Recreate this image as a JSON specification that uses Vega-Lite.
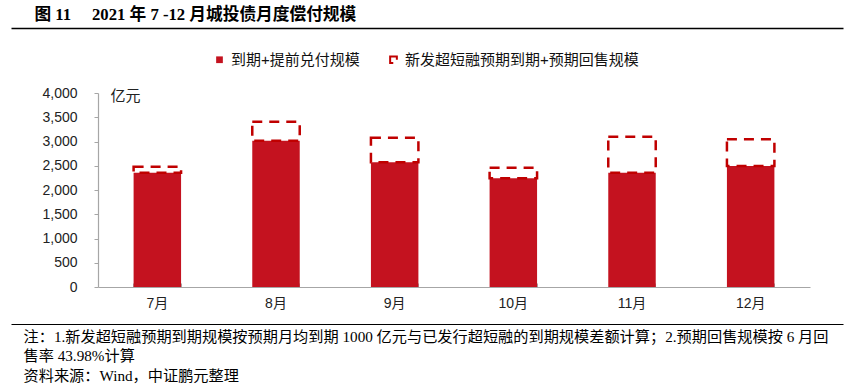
{
  "$schema": "https://vega.github.io/schema/vega-lite/v6.json",
  "autosize": "none",
  "width": 712,
  "height": 194,
  "padding": {"left": 98, "top": 93, "right": 39, "bottom": 105},
  "background": "white",
  "data": {
    "values": [
      {"月份": "7月", "系列": "到期+提前兑付规模", "规模": 2357},
      {"月份": "7月", "系列": "新发超短融预期到期+预期回售规模", "规模": 123},
      {"月份": "8月", "系列": "到期+提前兑付规模", "规模": 3016},
      {"月份": "8月", "系列": "新发超短融预期到期+预期回售规模", "规模": 392},
      {"月份": "9月", "系列": "到期+提前兑付规模", "规模": 2571},
      {"月份": "9月", "系列": "新发超短融预期到期+预期回售规模", "规模": 507},
      {"月份": "10月", "系列": "到期+提前兑付规模", "规模": 2241},
      {"月份": "10月", "系列": "新发超短融预期到期+预期回售规模", "规模": 219},
      {"月份": "11月", "系列": "到期+提前兑付规模", "规模": 2357},
      {"月份": "11月", "系列": "新发超短融预期到期+预期回售规模", "规模": 742},
      {"月份": "12月", "系列": "到期+提前兑付规模", "规模": 2495},
      {"月份": "12月", "系列": "新发超短融预期到期+预期回售规模", "规模": 550}
    ]
  },
  "layer": [
    {
      "mark": {"type": "bar", "strokeWidth": 2.5},
      "encoding": {
        "x": {
          "field": "月份", "type": "nominal",
          "sort": ["7月", "8月", "9月", "10月", "11月", "12月"],
          "scale": {"paddingInner": 0.6, "paddingOuter": 0.3},
          "axis": {
            "title": null, "labelAngle": 0,
            "domainColor": "#a6a6a6", "domainWidth": 1.2,
            "tickColor": "#a6a6a6", "tickSize": -4, "tickWidth": 1,
            "bandPosition": 1, "tickExtra": true,
            "labelFont": "'Liberation Sans', 'Noto Sans CJK SC'",
            "labelFontSize": 14, "labelColor": "#222222", "labelPadding": 13
          }
        },
        "y": {
          "field": "规模", "type": "quantitative", "stack": "zero",
          "scale": {"domain": [0, 4000], "nice": false},
          "axis": {
            "values": [0, 500, 1000, 1500, 2000, 2500, 3000, 3500, 4000],
            "format": ",.0f", "grid": false,
            "domainColor": "#a6a6a6", "domainWidth": 1.2,
            "tickColor": "#a6a6a6", "tickSize": 4,
            "labelFont": "'Liberation Sans', 'Noto Sans CJK SC'",
            "labelFontSize": 14, "labelColor": "#222222", "labelPadding": 17,
            "title": "亿元", "titleAngle": 0, "titleX": 12, "titleY": 2,
            "titleAlign": "left", "titleBaseline": "middle",
            "titleFont": "'Noto Sans CJK SC'", "titleFontSize": 15,
            "titleFontWeight": "normal", "titleColor": "#222222"
          }
        },
        "order": {"field": "系列", "type": "nominal", "sort": "ascending"},
        "fill": {
          "field": "系列", "type": "nominal",
          "scale": {
            "domain": ["到期+提前兑付规模", "新发超短融预期到期+预期回售规模"],
            "range": ["#c4121f", "transparent"]
          },
          "legend": {
            "title": null, "orient": "none", "legendX": 114, "legendY": -41,
            "direction": "horizontal", "symbolType": "square", "symbolSize": 45,
            "symbolStrokeWidth": 2, "labelFont": "'Liberation Sans', 'Noto Sans CJK SC'",
            "labelFontSize": 15, "labelColor": "#111111", "columnPadding": 26,
            "labelOffset": 4, "padding": 0, "labelLimit": 400
          }
        },
        "stroke": {
          "field": "系列", "type": "nominal",
          "scale": {
            "domain": ["到期+提前兑付规模", "新发超短融预期到期+预期回售规模"],
            "range": ["transparent", "#c00000"]
          }
        },
        "strokeDash": {
          "field": "系列", "type": "nominal",
          "scale": {
            "domain": ["到期+提前兑付规模", "新发超短融预期到期+预期回售规模"],
            "range": [[1, 0], [10, 7]]
          }
        }
      }
    },
    {
      "mark": {"type": "point", "opacity": 0},
      "encoding": {
        "x": {
          "datum": 0, "type": "quantitative",
          "scale": {"domain": [0, 1], "range": [-87, 745]},
          "axis": {
            "orient": "top", "offset": 65, "ticks": false, "labels": false, "grid": false,
            "domainColor": "#000000", "domainWidth": 1.5,
            "title": "图 11 　2021 年 7 -12 月城投债月度偿付规模",
            "titleX": -64, "titleY": -14, "titleAlign": "left", "titleBaseline": "middle",
            "titleAngle": 0, "titleFont": "'Liberation Serif', 'Noto Sans CJK SC'",
            "titleFontSize": 16.7, "titleFontWeight": "bold", "titleColor": "#000000"
          }
        }
      }
    },
    {
      "mark": {"type": "point", "opacity": 0},
      "encoding": {
        "x": {
          "datum": 0, "type": "quantitative",
          "scale": {"domain": [0, 1], "range": [-87, 745]},
          "axis": {
            "orient": "bottom", "offset": 37, "ticks": false, "labels": false, "grid": false,
            "domainColor": "#000000", "domainWidth": 1.2,
            "title": [
              "注：1.新发超短融预期到期规模按预期月均到期 1000 亿元与已发行超短融的到期规模差额计算；2.预期回售规模按 6 月回",
              "售率 43.98%计算",
              "资料来源：Wind，中证鹏元整理"
            ],
            "titleX": -75, "titleY": 5, "titleAlign": "left", "titleBaseline": "top",
            "titleAngle": 0, "titleLineHeight": 19.5,
            "titleFont": "'Liberation Serif', 'Noto Sans CJK SC'",
            "titleFontSize": 15.2, "titleFontWeight": "normal", "titleColor": "#000000"
          }
        }
      }
    }
  ],
  "resolve": {"scale": {"x": "independent"}},
  "config": {"view": {"stroke": null}}
}
